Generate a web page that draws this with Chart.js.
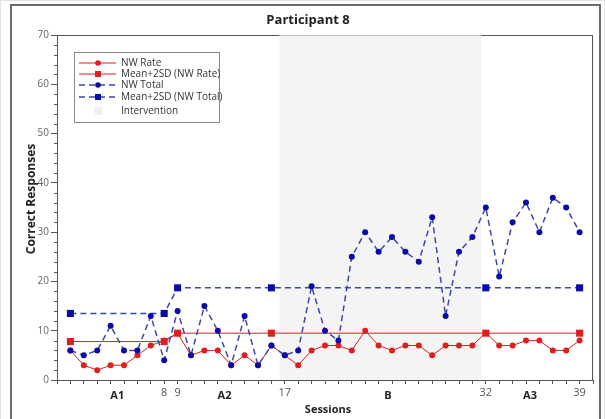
<!DOCTYPE html>
<html lang="en">
<head>
<meta charset="UTF-8">
<title>Participant 8</title>
<script src="https://cdn.jsdelivr.net/npm/chart.js@4.4.1/dist/chart.umd.min.js"></script>
<style>
  body { margin: 0; background: #fff; }
  canvas { display: block; }
</style>
</head>
<body>
<canvas id="myChart" width="605" height="419"></canvas>
<script>
// sessions and values
const sessions = [1,2,3,4,5,6,7,8,9,10,11,12,13,14,15,16,17,18,19,20,21,22,23,24,25,26,27,28,29,30,31,32,33,34,35,36,37,38,39];
const nwRate   = [6,3,2,3,3,5,7,8,9.5,5,6,6,3,5,3,7,5,3,6,7,7,6,10,7,6,7,7,5,7,7,7,9.6,7,7,8,8,6,6,8];
const nwTotal  = [6,5,6,11,6,6,13,4,14,5,15,10,3,13,3,7,5,6,19,10,8,25,30,26,29,26,24,33,13,26,29,35,21,32,36,30,37,35,30];

const meanSessions = [1,8,9,16,32,39];
const meanRate     = [7.8,7.8,9.5,9.5,9.5,9.5];
const meanTotal    = [13.5,13.5,18.7,18.7,18.7,18.7];

const tickSessions = [8,9,17,32,39];
const phaseNames   = ["A1","A2","B","A3"];
const phaseCenters = [4.5,12.5,24.7,35.3];
const intervention = [16.6,31.65];

const RED = '#dd1f1f';
const BLUE_LINE = '#3b48a6';
const BLUE_PT = '#0b0ca8';

function pts(xs, ys) { return xs.map((x, i) => ({x: x, y: ys[i]})); }

const decor = {
  id: 'decor',
  beforeDraw(chart) {
    const ctx = chart.ctx, a = chart.chartArea, xs = chart.scales.x;
    ctx.save();
    ctx.fillStyle = '#fff';
    ctx.fillRect(0, 0, chart.width, chart.height);
    ctx.strokeStyle = '#e2e2e2';
    ctx.lineWidth = 1;
    ctx.strokeRect(0.5, 0.5, chart.width - 1, chart.height + 5);
    ctx.strokeStyle = '#6b6b6b';
    ctx.lineWidth = 2;
    ctx.strokeRect(11, 5, 589, chart.height + 10);
    // intervention shading
    const x0 = xs.getPixelForValue(intervention[0]), x1 = xs.getPixelForValue(intervention[1]);
    ctx.fillStyle = '#f4f4f4';
    ctx.fillRect(x0, a.top, x1 - x0, a.bottom - a.top);
    ctx.restore();
  },
  beforeDatasetsDraw(chart) {
    const ctx = chart.ctx, a = chart.chartArea, xs = chart.scales.x, ys = chart.scales.y;
    const x0 = xs.getPixelForValue(intervention[0]), x1 = xs.getPixelForValue(intervention[1]);
    ctx.save();
    ctx.lineWidth = 1;
    ctx.strokeStyle = '#555';
    ctx.beginPath();
    ctx.moveTo(a.left, a.top + 0.5); ctx.lineTo(x0, a.top + 0.5);
    ctx.moveTo(x1, a.top + 0.5); ctx.lineTo(a.right, a.top + 0.5);
    ctx.moveTo(a.right - 0.5, a.top); ctx.lineTo(a.right - 0.5, a.bottom);
    ctx.stroke();
    ctx.strokeStyle = '#c4c4c4';
    ctx.beginPath();
    ctx.moveTo(x0, a.top + 0.5); ctx.lineTo(x1, a.top + 0.5);
    ctx.stroke();
    // minor y ticks
    ctx.strokeStyle = '#555';
    ctx.beginPath();
    for (let v = 2; v < 70; v += 2) {
      if (v % 10 === 0) continue;
      const y = Math.round(ys.getPixelForValue(v)) + 0.5;
      ctx.moveTo(a.left - 3, y); ctx.lineTo(a.left, y);
    }
    ctx.stroke();
    ctx.restore();
  },
  afterDraw(chart) {
    const ctx = chart.ctx, a = chart.chartArea, xs = chart.scales.x;
    ctx.save();
    ctx.fillStyle = '#222';
    ctx.textAlign = 'center';
    ctx.textBaseline = 'middle';
    ctx.font = 'bold 13px "Open Sans"';
    ctx.fillText('Participant 8', 308, 20);
    ctx.font = 'bold 11px "Open Sans"';
    ctx.fillText('Sessions', 328, 410);
    phaseNames.forEach((p, i) => {
      ctx.fillText(p, xs.getPixelForValue(phaseCenters[i]), 396);
    });
    ctx.save();
    ctx.translate(32, 199);
    ctx.rotate(-Math.PI / 2);
    ctx.font = 'bold 12px "Open Sans"';
    ctx.fillText('Correct Responses', 0, 0);
    ctx.restore();

    // legend box
    const bx = 74, by = 52, bw = 145, bh = 70;
    ctx.fillStyle = '#fff';
    ctx.fillRect(bx, by, bw, bh);
    ctx.strokeStyle = '#8a8a8a';
    ctx.lineWidth = 1;
    ctx.strokeRect(bx + 0.5, by + 0.5, bw, bh);
    const items = chart.data.datasets;
    const rowY = [63, 74, 85, 97];
    ctx.font = '10px "Open Sans"';
    ctx.textAlign = 'left';
    items.forEach((ds, i) => {
      const y = rowY[i];
      ctx.strokeStyle = ds.borderColor;
      ctx.lineWidth = ds.borderWidth;
      ctx.setLineDash(ds.borderDash || []);
      ctx.beginPath();
      ctx.moveTo(79, y); ctx.lineTo(116, y);
      ctx.stroke();
      ctx.setLineDash([]);
      ctx.fillStyle = ds.pointBackgroundColor;
      if (ds.pointStyle === 'rect') ctx.fillRect(95, y - 3, 6, 6);
      else { ctx.beginPath(); ctx.arc(98, y, 2.8, 0, Math.PI * 2); ctx.fill(); }
      ctx.fillStyle = '#333';
      ctx.fillText(ds.label, 121, y + 0.5);
    });
    ctx.fillStyle = '#f0f0f0';
    ctx.fillRect(94, 107, 8, 8);
    ctx.fillStyle = '#333';
    ctx.fillText('Intervention', 121, 111.5);
    ctx.restore();
  }
};

const config = {
  type: 'line',
  data: {
    datasets: [
      {
        label: 'NW Rate',
        data: pts(sessions, nwRate),
        borderColor: RED, borderWidth: 1,
        pointStyle: 'circle', pointRadius: 3, pointBorderWidth: 0,
        pointBackgroundColor: RED, pointBorderColor: RED,
        order: 3
      },
      {
        label: 'Mean+2SD (NW Rate)',
        data: pts(meanSessions, meanRate),
        borderColor: RED, borderWidth: 1,
        pointStyle: 'rect', pointRadius: 5, pointBorderWidth: 0,
        pointBackgroundColor: RED, pointBorderColor: RED,
        order: 2
      },
      {
        label: 'NW Total',
        data: pts(sessions, nwTotal),
        borderColor: BLUE_LINE, borderWidth: 1.5, borderDash: [6, 4],
        pointStyle: 'circle', pointRadius: 3, pointBorderWidth: 0,
        pointBackgroundColor: BLUE_PT, pointBorderColor: BLUE_PT,
        order: 0
      },
      {
        label: 'Mean+2SD (NW Total)',
        data: pts(meanSessions, meanTotal),
        borderColor: BLUE_LINE, borderWidth: 1.5, borderDash: [6, 4],
        pointStyle: 'rect', pointRadius: 5, pointBorderWidth: 0,
        pointBackgroundColor: BLUE_PT, pointBorderColor: BLUE_PT,
        order: 1
      }
    ]
  },
  options: {
    responsive: false,
    animation: false,
    layout: { padding: { left: 0, right: 12, top: 35, bottom: 0 } },
    plugins: {
      legend: { display: false },
      title: { display: false },
      tooltip: { enabled: false }
    },
    elements: { line: { tension: 0 } },
    scales: {
      x: {
        type: 'linear',
        min: 0, max: 40,
        afterFit(scale) { scale.height = 39; },
        border: { display: true, color: '#555', width: 1 },
        grid: { drawOnChartArea: false, drawTicks: true, tickLength: 4, color: '#555' },
        ticks: {
          stepSize: 1, autoSkip: false, maxRotation: 0, padding: 2,
          color: '#555', font: { family: 'Open Sans', size: 11 },
          callback: (v) => tickSessions.includes(v) ? String(v) : ''
        }
      },
      y: {
        min: 0, max: 70,
        afterFit(scale) { scale.width = 57; },
        border: { display: true, color: '#555', width: 1 },
        grid: { drawOnChartArea: false, drawTicks: true, tickLength: 6, color: '#555' },
        ticks: {
          stepSize: 10, padding: 2,
          color: '#666', font: { family: 'Open Sans', size: 10 }
        }
      }
    }
  },
  plugins: [decor]
};

const myChart = new Chart(document.getElementById('myChart'), config);
</script>
</body>
</html>
